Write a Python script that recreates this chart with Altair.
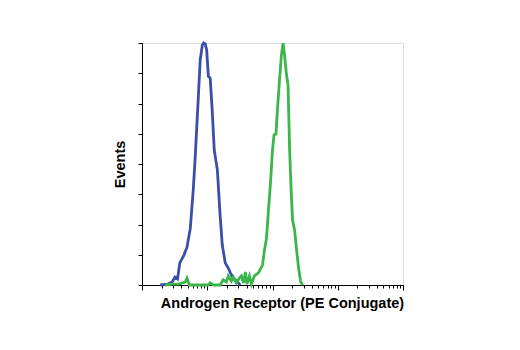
import altair as alt
import pandas as pd

# Blue histogram (isotype / negative control)
blue_x = [1.9, 2.5, 2.9, 3.2, 3.5, 3.8, 4.4, 4.9, 5.5, 6.1, 6.5, 7.3, 7.8, 8.4, 8.8,
          9.3, 9.8, 10.4, 11.1, 11.9, 12.8, 14.3, 15.8, 17.0, 18.9, 21.0, 22.6, 25.1,
          27.9, 32.2]
blue_y = [0.0, 0.03, 0.1, 0.26, 0.2, 0.73, 0.99, 1.26, 1.88, 3.14, 4.13, 6.21, 7.44,
          7.93, 8.0, 7.97, 7.77, 6.9, 6.84, 5.79, 4.46, 3.8, 2.25, 1.32, 0.73, 0.56,
          0.4, 0.23, 0.13, 0.0]

# Green histogram (Androgen Receptor PE conjugate)
green_x = [2.26, 2.9, 3.6, 4.6, 4.9, 5.3, 7.8, 10.4, 11.1, 12.4, 15.8, 17.6, 19.6,
           21.0, 23.4, 25.1, 27.9, 31.1, 33.4, 35.8, 38.4, 40.5, 44.3, 47.5, 52.8,
           60.9, 70.2, 75.4, 80.9, 86.8, 93.1, 100, 105.5, 113, 119, 128, 137, 145,
           153, 164, 173, 183, 193, 203, 218, 234, 251, 269, 289]
green_y = [0.0, 0.03, 0.03, 0.1, 0.23, 0.0, 0.0, 0.0, 0.07, 0.0, 0.0, 0.17, 0.1,
           0.3, 0.13, 0.26, 0.07, 0.23, 0.3, 0.07, 0.43, 0.03, 0.3, 0.03, 0.3,
           0.4, 0.66, 1.16, 1.55, 2.48, 3.37, 4.46, 4.96, 4.99, 5.79, 6.78, 7.6, 8.0,
           7.6, 6.94, 6.61, 4.46, 3.14, 2.15, 1.82, 1.16, 0.56, 0.13, 0.0]

major_ticks = [1, 10, 100, 1000, 10000]
minor_ticks = [m * d for d in [1, 10, 100, 1000] for m in range(2, 10)]
y_ticks = [0, 1, 2, 3, 4, 5, 6, 7, 8]

FONT = "Liberation Sans Narrow, Arial Narrow, Liberation Sans, sans-serif"

blue_df = pd.DataFrame({"x": blue_x, "y": blue_y, "i": range(len(blue_x))})
green_df = pd.DataFrame({"x": green_x, "y": green_y, "i": range(len(green_x))})

xscale = alt.Scale(type="log", domain=[1, 10000], nice=False)
yscale = alt.Scale(domain=[0, 8], nice=False)

yaxis = alt.Axis(values=y_ticks, labels=False, tickSize=4, title="Events",
                 titleFont=FONT, titleFontSize=14.5, titleFontWeight="bold",
                 titlePadding=10, domainColor="black", tickColor="black", grid=False,
                 orient="left")

major_axis = alt.Axis(values=major_ticks, labels=False, tickSize=5,
                      title="Androgen Receptor (PE Conjugate)", titleFont=FONT,
                      titleFontSize=14.5, titleFontWeight="bold", titlePadding=6,
                      titleX=140, titleAlign="center",
                      domainColor="black", tickColor="black", grid=False, orient="bottom")
minor_axis = alt.Axis(values=minor_ticks, labels=False, tickSize=3, title=None,
                      domainColor="black", tickColor="black", grid=False, orient="bottom")

blue = alt.Chart(blue_df).mark_line(color="#3a4fa8", strokeWidth=2.8).encode(
    x=alt.X("x:Q", scale=xscale, axis=major_axis),
    y=alt.Y("y:Q", scale=yscale, axis=yaxis),
    order="i:Q",
)
green = alt.Chart(green_df).mark_line(color="#3cb54a", strokeWidth=2.8).encode(
    x=alt.X("x:Q", scale=xscale, axis=minor_axis),
    y=alt.Y("y:Q", scale=yscale, axis=yaxis),
    order="i:Q",
)

chart = alt.layer(blue, green).resolve_axis(x="independent").properties(
    width=261, height=242,
    autosize=alt.AutoSizeParams(type="none"),
    padding={"left": 134, "top": 35, "right": 100, "bottom": 57},
).configure_view(stroke="#888888", strokeWidth=1).configure(background="white")

chart.save("out.html", embed_options={"renderer": "svg", "actions": False})
